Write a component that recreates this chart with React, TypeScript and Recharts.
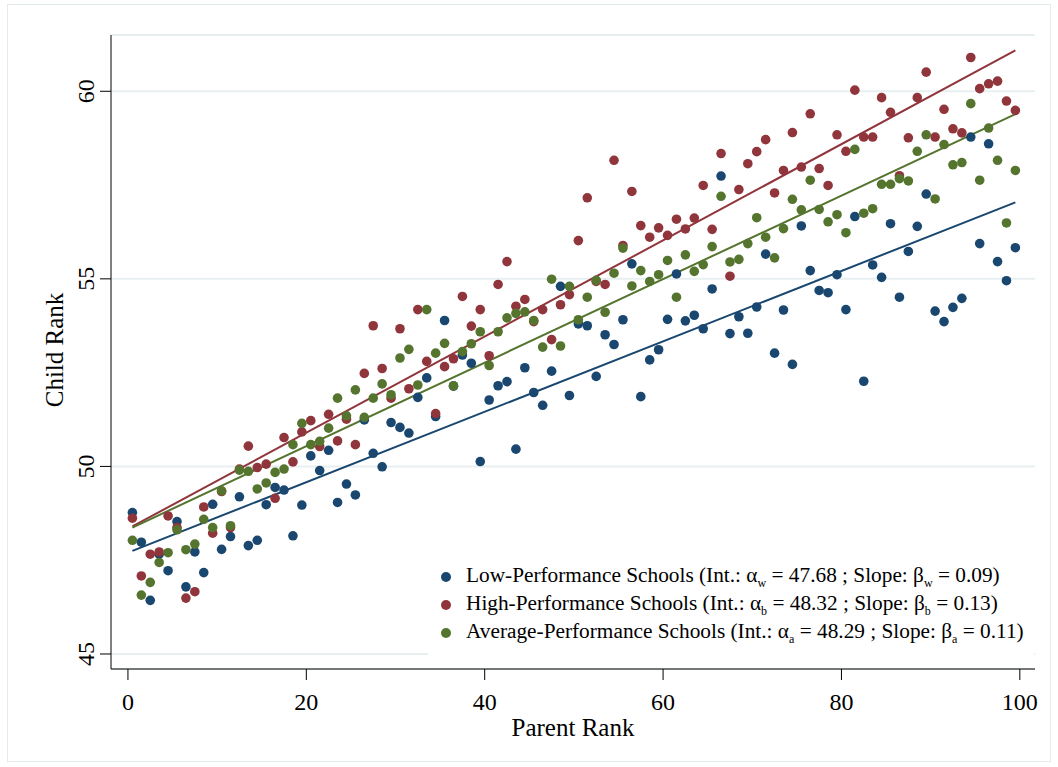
import React from 'react';
import {
  ScatterChart,
  Scatter,
  XAxis,
  YAxis,
  CartesianGrid,
  ReferenceLine,
} from 'recharts';

// parent rank bins (x) and mean child rank per school group (y)
const parentRank = [
  0.5, 1.5, 2.5, 3.5, 4.5, 5.5, 6.5, 7.5, 8.5, 9.5,
  10.5, 11.5, 12.5, 13.5, 14.5, 15.5, 16.5, 17.5, 18.5, 19.5,
  20.5, 21.5, 22.5, 23.5, 24.5, 25.5, 26.5, 27.5, 28.5, 29.5,
  30.5, 31.5, 32.5, 33.5, 34.5, 35.5, 36.5, 37.5, 38.5, 39.5,
  40.5, 41.5, 42.5, 43.5, 44.5, 45.5, 46.5, 47.5, 48.5, 49.5,
  50.5, 51.5, 52.5, 53.5, 54.5, 55.5, 56.5, 57.5, 58.5, 59.5,
  60.5, 61.5, 62.5, 63.5, 64.5, 65.5, 66.5, 67.5, 68.5, 69.5,
  70.5, 71.5, 72.5, 73.5, 74.5, 75.5, 76.5, 77.5, 78.5, 79.5,
  80.5, 81.5, 82.5, 83.5, 84.5, 85.5, 86.5, 87.5, 88.5, 89.5,
  90.5, 91.5, 92.5, 93.5, 94.5, 95.5, 96.5, 97.5, 98.5, 99.5,
];

const lowSchools = [
  48.77, 47.98, 46.43, 47.66, 47.22, 48.53, 46.79, 47.72, 47.17, 48.99,
  47.79, 48.13, 49.19, 47.89, 48.03, 48.98, 49.44, 49.37, 48.15, 48.97,
  50.28, 49.89, 50.43, 49.04, 49.53, 49.24, 51.24, 50.35, 49.99, 51.17,
  51.04, 50.89, 51.84, 52.36, 51.33, 53.89, 52.14, 52.97, 52.75, 50.13,
  51.77, 52.15, 52.26, 50.46, 52.63, 51.97, 51.63, 52.54, 54.8, 51.89,
  53.8, 53.75, 52.4, 53.51, 53.25, 53.91, 55.4, 51.86, 52.84, 53.11,
  53.92, 55.13, 53.88, 54.03, 53.67, 54.73, 57.74, 53.54, 53.99, 53.55,
  54.25, 55.66, 53.02, 54.17, 52.72, 56.41, 55.22, 54.69, 54.63, 55.11,
  54.18, 56.66, 52.27, 55.37, 55.04, 56.47, 54.51, 55.73, 56.4, 57.26,
  54.14, 53.86, 54.24, 54.48, 58.78, 55.94, 58.6, 55.46, 54.95, 55.83,
];

const highSchools = [
  48.62, 47.08, 47.66, 47.72, 48.68, 48.37, 46.49, 46.66, 48.92, 48.22,
  49.33, 48.37, 49.93, 50.54, 49.97, 50.06, 49.15, 50.77, 50.12, 50.92,
  51.22, 50.53, 51.39, 50.68, 51.26, 50.58, 52.48, 53.75, 52.61, 51.82,
  53.67, 52.07, 54.18, 52.8, 51.41, 52.66, 52.87, 54.53, 53.74, 54.18,
  52.95, 54.85, 55.46, 54.27, 54.45, 53.86, 54.18, 53.38, 54.31, 54.58,
  56.02, 57.16, 54.93, 54.85, 58.16, 55.89, 57.33, 56.42, 56.11, 56.36,
  56.16, 56.59, 56.33, 56.62, 57.49, 56.32, 58.34, 55.07, 57.38, 58.07,
  58.39, 58.71, 57.29, 57.89, 58.9, 57.98, 59.4, 57.94, 57.49, 58.84,
  58.4, 60.03, 58.78, 58.78, 59.83, 59.44, 57.75, 58.76, 59.83, 60.51,
  58.78, 59.52, 59.0, 58.89, 60.9, 60.07, 60.2, 60.27, 59.74, 59.49,
];

const averageSchools = [
  48.03, 46.57, 46.91, 47.44, 47.7, 48.31, 47.78, 47.93, 48.59, 48.37,
  49.35, 48.42, 49.9, 49.87, 49.4, 49.56, 49.84, 49.93, 50.58, 51.15,
  50.58, 50.67, 51.02, 51.82, 51.35, 52.04, 51.31, 51.82, 52.2, 51.91,
  52.89, 53.12, 52.17, 54.18, 53.02, 53.28, 52.15, 53.06, 53.27, 53.59,
  52.69, 53.59, 53.96, 54.08, 54.12, 53.89, 53.18, 54.99, 53.21, 54.8,
  53.91, 54.51, 54.96, 54.11, 55.15, 55.82, 54.81, 55.22, 54.93, 55.11,
  55.49, 54.51, 55.64, 55.2, 55.38, 55.86, 57.2, 55.45, 55.52, 55.94,
  56.63, 56.11, 55.56, 56.34, 57.12, 56.84, 57.63, 56.85, 56.52, 56.71,
  56.23, 58.45, 56.75, 56.87, 57.52, 57.52, 57.67, 57.61, 58.4, 58.84,
  57.13, 58.58, 58.04, 58.1, 59.67, 57.63, 59.02, 58.16, 56.49, 57.89,
];

// fitted lines: child rank at the first and last parent-rank bin
const fitFrom = [47.75, 48.4, 48.37];
const fitTo = [57.04, 61.09, 59.39];

const seriesNames = [
  'Low-Performance Schools',
  'High-Performance Schools',
  'Average-Performance Schools',
];
const seriesSubs = ['w', 'b', 'a'];
const seriesIntercepts = ['47.68', '48.32', '48.29'];
const seriesSlopes = ['0.09', '0.13', '0.11'];
const seriesColors = ['#1a476f', '#90353b', '#55752f'];

const xTicks = [0, 20, 40, 60, 80, 100];
const yTicks = [45, 50, 55, 60];

const FONT = '"Liberation Serif", "Times New Roman", serif';

const seriesData = [lowSchools, highSchools, averageSchools].map((ys) =>
  parentRank.map((x, i) => ({ x, y: ys[i] }))
);

function YTick({ x, y, payload }: any) {
  return (
    <text
      transform={`translate(${x - 4}, ${y}) rotate(-90)`}
      textAnchor="middle"
      fontFamily={FONT}
      fontSize={24}
      fill="#000"
    >
      {payload.value}
    </text>
  );
}

function XTick({ x, y, payload }: any) {
  return (
    <text
      x={x}
      y={y + 28}
      textAnchor="middle"
      fontFamily={FONT}
      fontSize={24}
      fill="#000"
    >
      {payload.value}
    </text>
  );
}

function Dot(color: string) {
  return (p: any) => <circle cx={p.cx} cy={p.cy} r={4.8} fill={color} />;
}

export default function App() {
  return (
    <div
      style={{
        position: 'absolute',
        left: 0,
        top: 0,
        width: 1058,
        height: 767,
        background: '#fff',
        fontFamily: FONT,
      }}
    >
      <div
        style={{
          position: 'absolute',
          left: 7,
          top: 4,
          width: 1042,
          height: 756,
          border: '1px solid #e3ebee',
        }}
      />
      <div style={{ position: 'absolute', left: 0, top: 0 }}>
        <ScatterChart
          width={1058}
          height={767}
          margin={{ top: 35, right: 23, bottom: 0, left: 0 }}
        >
          <CartesianGrid vertical={false} stroke="#e8eff1" strokeWidth={2} />
          <XAxis
            type="number"
            dataKey="x"
            domain={[-1.9, 101.7]}
            ticks={xTicks}
            height={98}
            stroke="#000"
            tickSize={11}
            tick={<XTick />}
            label={{
              value: 'Parent Rank',
              position: 'insideBottom',
              offset: 31,
              style: { fontFamily: FONT, fontSize: 25, fill: '#000' },
            }}
          />
          <YAxis
            type="number"
            dataKey="y"
            domain={[44.6, 61.5]}
            ticks={yTicks}
            width={111}
            stroke="#000"
            tickSize={11}
            tick={<YTick />}
            label={{
              content: () => (
                <text
                  transform="translate(63, 350) rotate(-90)"
                  textAnchor="middle"
                  fontFamily={FONT}
                  fontSize={25}
                  fill="#000"
                >
                  Child Rank
                </text>
              ),
            }}
          />
          {seriesData.map((data, k) => (
            <Scatter
              key={seriesNames[k]}
              name={seriesNames[k]}
              data={data}
              fill={seriesColors[k]}
              shape={Dot(seriesColors[k])}
              isAnimationActive={false}
            />
          ))}
          {fitFrom.map((y0, k) => (
            <ReferenceLine
              key={'fit' + k}
              segment={[
                { x: parentRank[0], y: y0 },
                { x: parentRank[parentRank.length - 1], y: fitTo[k] },
              ]}
              stroke={seriesColors[k]}
              strokeWidth={2}
            />
          ))}
        </ScatterChart>
      </div>
      <div
        style={{
          position: 'absolute',
          left: 428,
          top: 558,
          width: 606,
          height: 102,
          background: '#fff',
        }}
      >
        {seriesNames.map((name, k) => (
          <div
            key={name}
            style={{
              position: 'absolute',
              left: 0,
              top: 5 + k * 28,
              height: 28,
              display: 'flex',
              alignItems: 'center',
              whiteSpace: 'nowrap',
              fontSize: 21.3,
              color: '#000',
            }}
          >
            <span
              style={{
                display: 'inline-block',
                width: 10,
                height: 10,
                borderRadius: 5,
                background: seriesColors[k],
                marginLeft: 13,
                marginRight: 15,
              }}
            />
            <span>
              {name} (Int.: α<sub style={{ fontSize: 12 }}>{seriesSubs[k]}</sub> ={' '}
              {seriesIntercepts[k]} ; Slope: β
              <sub style={{ fontSize: 12 }}>{seriesSubs[k]}</sub> ={' '}
              {seriesSlopes[k]})
            </span>
          </div>
        ))}
      </div>
    </div>
  );
}
